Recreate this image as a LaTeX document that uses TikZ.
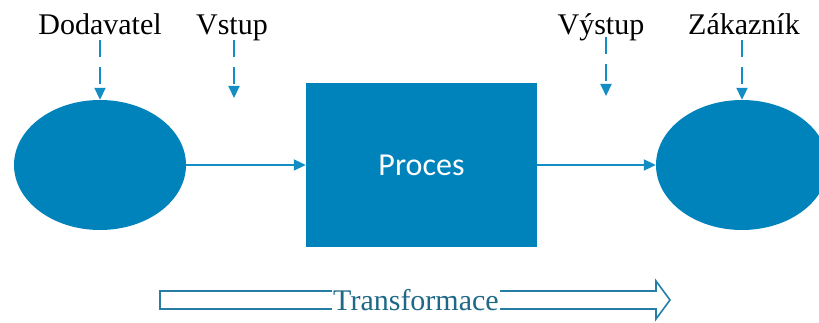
\documentclass[tikz,border=0pt]{standalone}
\usepackage{fontspec}
\setmainfont{Liberation Serif}
\newfontfamily\procfont{Carlito}
\usetikzlibrary{arrows.meta,shapes.geometric}
\definecolor{flowblue}{RGB}{0,130,186}
\definecolor{linkblue}{RGB}{20,140,196}
\definecolor{bandblue}{RGB}{40,125,165}
\definecolor{bandtext}{RGB}{30,105,135}
\tikzset{
  party/.style={ellipse, fill=flowblue, draw=none, minimum width=172pt, minimum height=130pt, inner sep=0pt},
  label/.style={font=\fontsize{30}{30}\selectfont, anchor=base, inner sep=0pt},
  feed/.style={draw=linkblue, line width=2pt, dash pattern=on 17pt off 10pt,
    -{Triangle[width=11pt,length=12pt]}},
  flow/.style={draw=linkblue, line width=2pt, -{Triangle[width=11pt,length=12pt]}},
}
\begin{document}
\begin{tikzpicture}[x=1pt,y=-1pt]
\useasboundingbox (0,0) rectangle (819,323);
\begin{scope}
\clip (0,0) rectangle (819,323);
% supplier and customer
\node[party] (supplier) at (100,165) {};
\node[party] (customer) at (742,165) {};
\end{scope}
% the process block
\node[fill=flowblue, minimum width=231pt, minimum height=163pt, inner sep=0pt] (proc) at (421.5,165)
  {\procfont\fontsize{32}{32}\selectfont\color{white}Proces};

% labels
\node[label] (ldod) at (100,35) {Dodavatel};
\node[label] (lin)  at (232,35) {Vstup};
\node[label] (lout) at (601,35) {Výstup};
\node[label] (lcus) at (744,35) {Zákazník};

% dashed feeds
\coordinate (inend) at (234,98);
\coordinate (outend) at (606,96);
\draw[feed] (ldod.base -| supplier.north) ++(0,5) -- (supplier.north);
\draw[feed] (lin.base -| inend) ++(0,5) -- (inend);
\draw[feed] (lout.base -| outend) ++(0,2) -- (outend);
\draw[feed] (lcus.base -| customer.north) ++(0,5) -- (customer.north);

% flow arrows
\draw[flow] (supplier.east) -- (proc.west);
\draw[flow] (proc.east) -- (customer.west);

% transformation band
\draw[bandblue, line width=1.6pt, line join=miter]
  (160,291) -- (656,291) -- (656,281) -- (670,300) -- (656,319) -- (656,309) -- (160,309) -- cycle;
\node[fill=white, inner sep=1pt, text=bandtext, font=\fontsize{30}{30}\selectfont] (band) at (416,300) {Transformace};
\end{tikzpicture}
\end{document}
